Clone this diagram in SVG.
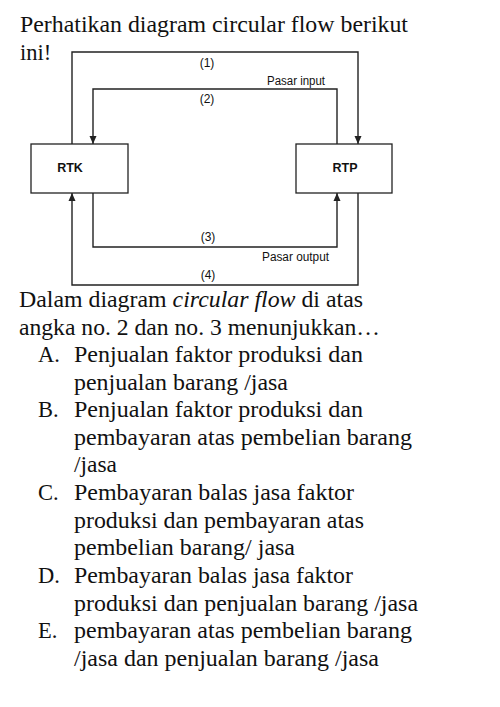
<svg xmlns="http://www.w3.org/2000/svg" width="500" height="707" viewBox="0 0 500 707">
<style>
.q{font-family:"Liberation Serif","Times New Roman",serif;font-size:22.5px;fill:#111}
.lb{font-family:"Liberation Sans",Arial,sans-serif;font-size:12px;fill:#111}
.nb{font-family:"Liberation Sans",Arial,sans-serif;font-size:12.5px;font-weight:bold;fill:#111}
.box{fill:#fff;stroke:#222;stroke-width:1.3}
.ln{fill:none;stroke:#222;stroke-width:1.4}
</style>
<defs>
<marker id="ah" markerWidth="8" markerHeight="8" refX="4" refY="8" orient="auto-start-reverse" markerUnits="userSpaceOnUse" viewBox="0 0 8 8">
<path d="M0,0 L8,0 L4,8 Z" fill="#222" transform="rotate(0)"/>
</marker>
<marker id="ad" markerWidth="8" markerHeight="8" refX="4" refY="8" orient="0" markerUnits="userSpaceOnUse" viewBox="0 0 8 8">
<path d="M0.5,0 L7.5,0 L4,8 Z" fill="#222"/>
</marker>
<marker id="au" markerWidth="8" markerHeight="8" refX="4" refY="0" orient="0" markerUnits="userSpaceOnUse" viewBox="0 0 8 8">
<path d="M0.5,8 L7.5,8 L4,0 Z" fill="#222"/>
</marker>
</defs>

<g id="question">
<text class="q" x="20" y="32" textLength="388" lengthAdjust="spacingAndGlyphs">Perhatikan diagram circular flow berikut</text>
<text class="q" x="20" y="60">ini!</text>
</g>

<g id="connectors">
<path class="ln" d="M72,144 V52 H358 V144" marker-end="url(#ad)"/>
<path class="ln" d="M337,144 V89 H93 V144" marker-end="url(#ad)"/>
<path class="ln" d="M93,193 V247 H337 V193" marker-end="url(#au)"/>
<path class="ln" d="M358,193 V285 H72 V193" marker-end="url(#au)"/>
<text class="lb" x="207" y="67" text-anchor="middle">(1)</text>
<text class="lb" x="296" y="85" text-anchor="middle" textLength="58" lengthAdjust="spacingAndGlyphs">Pasar input</text>
<text class="lb" x="207" y="103" text-anchor="middle">(2)</text>
<text class="lb" x="208" y="241" text-anchor="middle">(3)</text>
<text class="lb" x="295.5" y="261" text-anchor="middle" textLength="67" lengthAdjust="spacingAndGlyphs">Pasar output</text>
<text class="lb" x="208" y="279" text-anchor="middle">(4)</text>
</g>

<g id="rtk">
<rect class="box" x="31" y="144" width="97" height="49"/>
<text class="nb" x="70" y="172" text-anchor="middle">RTK</text>
</g>
<g id="rtp">
<rect class="box" x="296" y="144" width="96" height="49"/>
<text class="nb" x="345" y="172" text-anchor="middle">RTP</text>
</g>

<g id="body">
<text class="q" x="19" y="307" textLength="344" lengthAdjust="spacingAndGlyphs">Dalam diagram <tspan font-style="italic">circular flow</tspan> di atas</text>
<text class="q" x="19" y="334.5" textLength="361" lengthAdjust="spacingAndGlyphs">angka no. 2 dan no. 3 menunjukkan…</text>
<text class="q" x="38" y="362">A.</text>
<text class="q" x="74" y="362" textLength="289" lengthAdjust="spacingAndGlyphs">Penjualan faktor produksi dan</text>
<text class="q" x="74" y="390" textLength="214" lengthAdjust="spacingAndGlyphs">penjualan barang /jasa</text>
<text class="q" x="38" y="417">B.</text>
<text class="q" x="74" y="417" textLength="289" lengthAdjust="spacingAndGlyphs">Penjualan faktor produksi dan</text>
<text class="q" x="74" y="445" textLength="338" lengthAdjust="spacingAndGlyphs">pembayaran atas pembelian barang</text>
<text class="q" x="74" y="472" textLength="43" lengthAdjust="spacingAndGlyphs">/jasa</text>
<text class="q" x="38" y="500">C.</text>
<text class="q" x="74" y="500" textLength="280" lengthAdjust="spacingAndGlyphs">Pembayaran balas jasa faktor</text>
<text class="q" x="74" y="528" textLength="290" lengthAdjust="spacingAndGlyphs">produksi dan pembayaran atas</text>
<text class="q" x="74" y="555" textLength="221" lengthAdjust="spacingAndGlyphs">pembelian barang/ jasa</text>
<text class="q" x="38" y="583">D.</text>
<text class="q" x="74" y="583" textLength="279" lengthAdjust="spacingAndGlyphs">Pembayaran balas jasa faktor</text>
<text class="q" x="74" y="611" textLength="344" lengthAdjust="spacingAndGlyphs">produksi dan penjualan barang /jasa</text>
<text class="q" x="38" y="638">E.</text>
<text class="q" x="74" y="638" textLength="338" lengthAdjust="spacingAndGlyphs">pembayaran atas pembelian barang</text>
<text class="q" x="74" y="666" textLength="305" lengthAdjust="spacingAndGlyphs">/jasa dan penjualan barang /jasa</text>
</g>
</svg>
